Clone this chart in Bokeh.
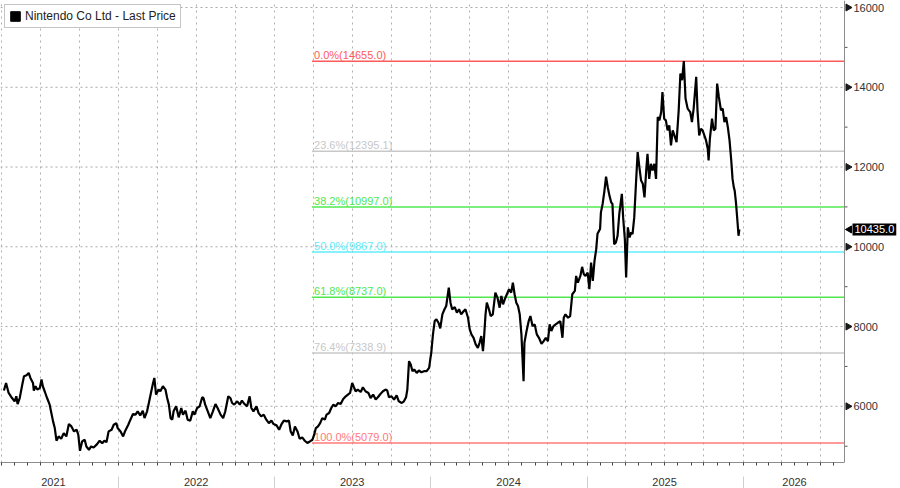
import math
import pandas as pd
from bokeh.plotting import figure
from bokeh.models import FixedTicker, Legend, LegendItem, Range1d, Span
from bokeh.core.properties import value
from bokeh.embed import file_html
from bokeh.resources import INLINE

# ---------------- data ----------------
dates = [
    "2021-04-07","2021-04-12","2021-04-18","2021-04-26","2021-05-02","2021-05-06","2021-05-09","2021-05-14",
    "2021-05-20","2021-05-24","2021-05-30","2021-06-04","2021-06-08","2021-06-14","2021-06-16","2021-06-20",
    "2021-06-24","2021-06-30","2021-07-04","2021-07-07","2021-07-12","2021-07-17","2021-07-23","2021-07-27",
    "2021-07-31","2021-08-04","2021-08-08","2021-08-13","2021-08-19","2021-08-25","2021-08-31","2021-09-06",
    "2021-09-12","2021-09-18","2021-09-24","2021-09-28","2021-10-02","2021-10-07","2021-10-13","2021-10-17",
    "2021-10-23","2021-10-28","2021-11-03","2021-11-11","2021-11-17","2021-11-23","2021-11-28","2021-12-03",
    "2021-12-08","2021-12-15","2021-12-20","2021-12-26","2021-12-29",
    "2022-01-05","2022-01-11","2022-01-16","2022-01-23","2022-01-28","2022-02-03","2022-02-09","2022-02-14",
    "2022-02-20","2022-02-26","2022-03-02","2022-03-08","2022-03-13","2022-03-17","2022-03-22","2022-03-25",
    "2022-03-29","2022-04-02","2022-04-04","2022-04-08","2022-04-14","2022-04-20","2022-04-24","2022-04-28",
    "2022-05-02","2022-05-06","2022-05-09","2022-05-15","2022-05-21","2022-05-27","2022-05-31","2022-06-06",
    "2022-06-11","2022-06-17","2022-06-23","2022-06-27","2022-07-03","2022-07-09","2022-07-15","2022-07-18",
    "2022-07-22","2022-07-28","2022-08-03","2022-08-09","2022-08-15","2022-08-20","2022-08-27","2022-09-02",
    "2022-09-07","2022-09-14","2022-09-19","2022-09-23","2022-09-28","2022-10-05","2022-10-11","2022-10-16",
    "2022-10-22","2022-10-28","2022-11-03","2022-11-07","2022-11-12","2022-11-19","2022-11-24","2022-11-30",
    "2022-12-06","2022-12-12","2022-12-18","2022-12-24","2022-12-29",
    "2023-01-05","2023-01-11","2023-01-16","2023-01-22","2023-01-29","2023-02-03","2023-02-07","2023-02-12",
    "2023-02-17","2023-02-23","2023-02-28","2023-03-06","2023-03-12","2023-03-18","2023-03-24","2023-03-30",
    "2023-04-03","2023-04-07","2023-04-12","2023-04-17","2023-04-22","2023-04-28","2023-05-02","2023-05-08",
    "2023-05-13","2023-05-18","2023-05-23","2023-05-29","2023-06-04","2023-06-10","2023-06-16","2023-06-21",
    "2023-06-26","2023-07-01","2023-07-05","2023-07-09","2023-07-14","2023-07-21","2023-07-26","2023-08-01",
    "2023-08-08","2023-08-13","2023-08-19","2023-08-25","2023-08-30","2023-09-05","2023-09-11","2023-09-17",
    "2023-09-21","2023-09-25","2023-10-01","2023-10-07","2023-10-13","2023-10-18","2023-10-25","2023-10-30",
    "2023-11-04","2023-11-07","2023-11-11","2023-11-15","2023-11-19","2023-11-23","2023-11-29","2023-12-04",
    "2023-12-10","2023-12-16","2023-12-22","2023-12-28","2023-12-31",
    "2024-01-02","2024-01-06","2024-01-10","2024-01-14","2024-01-19","2024-01-23","2024-01-28","2024-02-02",
    "2024-02-06","2024-02-12","2024-02-16","2024-02-20","2024-02-26","2024-03-02","2024-03-07","2024-03-12",
    "2024-03-18","2024-03-22","2024-03-28","2024-04-01","2024-04-05","2024-04-10","2024-04-15","2024-04-20",
    "2024-04-24","2024-04-28","2024-05-02","2024-05-04","2024-05-08","2024-05-11","2024-05-16","2024-05-20",
    "2024-05-25","2024-05-31","2024-06-05","2024-06-10","2024-06-14","2024-06-18","2024-06-22","2024-06-27",
    "2024-07-02","2024-07-07","2024-07-11","2024-07-15","2024-07-19","2024-07-23","2024-07-27","2024-07-31",
    "2024-08-05","2024-08-07","2024-08-12","2024-08-17","2024-08-21","2024-08-26","2024-08-31","2024-09-05",
    "2024-09-10","2024-09-16","2024-09-21","2024-09-26","2024-10-01","2024-10-05","2024-10-09","2024-10-14",
    "2024-10-19","2024-10-24","2024-10-30","2024-11-04","2024-11-07","2024-11-11","2024-11-17","2024-11-22",
    "2024-11-27","2024-12-03","2024-12-06","2024-12-10","2024-12-16","2024-12-20","2024-12-24","2024-12-28",
    "2025-01-02","2025-01-06","2025-01-10","2025-01-14","2025-01-18","2025-01-22","2025-01-25","2025-01-31",
    "2025-02-02","2025-02-06","2025-02-10","2025-02-14","2025-02-18","2025-02-22","2025-02-26","2025-03-01",
    "2025-03-05","2025-03-09","2025-03-13","2025-03-17","2025-03-23","2025-03-26","2025-03-30","2025-04-02",
    "2025-04-06","2025-04-10","2025-04-14","2025-04-17","2025-04-21","2025-04-25","2025-04-29","2025-05-03",
    "2025-05-07","2025-05-11","2025-05-15","2025-05-19","2025-05-22","2025-05-26","2025-05-30","2025-06-03",
    "2025-06-07","2025-06-11","2025-06-15","2025-06-19","2025-06-23","2025-06-26","2025-06-30","2025-07-04",
    "2025-07-08","2025-07-12","2025-07-16","2025-07-20","2025-07-24","2025-07-29","2025-08-03","2025-08-07",
    "2025-08-11","2025-08-15","2025-08-19","2025-08-24","2025-08-30","2025-09-03","2025-09-07","2025-09-13",
    "2025-09-16","2025-09-20","2025-09-24","2025-09-28","2025-10-02","2025-10-06","2025-10-10","2025-10-12",
    "2025-10-15","2025-10-20","2025-10-24","2025-10-28","2025-11-01","2025-11-05","2025-11-10","2025-11-14",
    "2025-11-18","2025-11-22","2025-11-26","2025-11-30","2025-12-04","2025-12-07","2025-12-10","2025-12-12",
    "2025-12-15","2025-12-19","2025-12-21","2025-12-23",
]
prices = [
    6395,6586,6334,6208,6125,6251,6057,6208,
    6546,6754,6780,6837,6712,6586,6395,6503,
    6420,6460,6671,6503,6359,6208,6042,5831,
    5622,5454,5137,5245,5187,5328,5245,5554,
    5496,5371,5413,5288,4885,5119,5162,4993,
    4910,4993,4968,5051,5137,5076,5137,5101,
    5371,5413,5539,5579,5454,
    5371,5245,5388,5539,5665,5806,5791,5874,
    5773,5891,5705,5874,6125,6334,6586,6712,
    6294,6377,6420,6377,6503,6420,6208,6042,
    5705,5665,5874,6000,5723,5957,5791,5891,
    5665,5640,5874,5791,5957,6000,6226,6208,
    6042,5874,5705,5874,6057,5957,5791,5705,
    5874,6251,6208,6083,6042,6125,6042,6143,
    6057,6000,6251,5957,5874,6000,5831,5748,
    5791,5665,5579,5640,5554,
    5522,5413,5539,5640,5622,5640,5371,5270,
    5496,5371,5187,5220,5137,5079,5119,5162,
    5288,5454,5496,5579,5705,5665,5791,5831,
    5957,6042,6000,6083,6057,6183,6251,6294,
    6334,6586,6478,6377,6420,6359,6478,6377,
    6334,6208,6294,6168,6226,6309,6377,6420,
    6395,6226,6251,6168,6276,6125,6083,6125,
    6226,6420,7132,7049,6880,6923,6837,6898,
    6855,6880,6880,6963,7200,
    7341,7804,8138,8181,8095,7954,8307,8433,
    8516,8976,8599,8430,8490,8347,8433,8307,
    8390,8433,8221,7929,7804,7718,7552,7466,
    7592,7761,7383,7635,8307,8599,8433,8264,
    8307,8850,8724,8473,8767,8558,8684,8810,
    8936,8850,9102,8810,8599,8516,8307,7804,
    6629,7592,7887,8138,8264,8012,8055,7804,
    7718,7567,7635,7718,7635,8055,7887,8012,
    8055,8095,8138,7718,8221,8307,8221,8264,
    8810,8893,9270,9102,9270,9497,9313,9270,
    9353,8936,9605,9145,9648,9940,10327,10445,
    10863,11074,11384,11761,11492,11283,11115,11074,
    10068,10108,10277,10823,11326,10737,10194,9228,
    10486,10234,10360,10320,10737,11578,12373,11995,
    11661,11578,11240,11912,12332,11703,12081,11912,
    12081,11703,13253,13170,13379,13882,13213,13170,
    12919,13044,12541,12919,12793,12624,13422,14345,
    14177,14655,13716,13465,13379,13127,13465,14260,
    13422,12793,12961,12919,12793,12667,12458,12164,
    12710,13213,12919,12961,14094,13756,13422,13465,
    13127,13253,13002,12667,12164,11703,11492,11409,
    11115,10571,10277,10435,
]
series_name = "Nintendo Co Ltd - Last Price"
last_price = 10435.0

fib_pcts = ["0.0%", "23.6%", "38.2%", "50.0%", "61.8%", "76.4%", "100.0%"]
fib_levels = [14655.0, 12395.1, 10997.0, 9867.0, 8737.0, 7338.9, 5079.0]
fib_colors = ["#ff5a5a", "#c8c8c8", "#4fe84f", "#62ecfa", "#4fe84f", "#c8c8c8", "#ff7a7a"]
fib_start = "2023-03-29"

y_ticks = [6000, 8000, 10000, 12000, 14000, 16000]
y_tick_labels = ["6000", "8000", "10000", "12000", "14000", "16000"]
y_minor = [5000, 7000, 9000, 11000, 13000, 15000]
years = ["2021", "2022", "2023", "2024", "2025", "2026"]
year_label_dates = ["2021-08-01", "2022-07-01", "2023-07-01", "2024-07-01", "2025-07-01", "2026-05-01"]

x_start, x_end = "2021-03-30", "2026-08-26"
y_start, y_end = 4591, 16176

# ---------------- layout helpers ----------------
def ms(d):
    return pd.Timestamp(d).value / 1e6

W, H = 900, 488
AXIS_PX = 844.0                       # x position (px) of the price axis inside the frame
xs = [ms(d) for d in dates]
X0, X1 = ms(x_start), ms(x_end)
PX = (X1 - X0) / AXIS_PX              # ms per pixel
XR = X0 + PX * W

p = figure(width=W, height=H, x_axis_type="datetime", y_axis_location=None,
           x_range=Range1d(X0, XR), y_range=Range1d(y_start, y_end),
           output_backend="svg", toolbar_location=None,
           min_border_left=0, min_border_top=0, min_border_right=0, min_border_bottom=0)
p.outline_line_color = None
p.background_fill_color = "white"
p.border_fill_color = "white"
p.ygrid.visible = False

# vertical quarter grid
quarters = [ms(d) for d in pd.date_range("2021-04-01", "2026-07-01", freq="QS")]
p.xgrid.ticker = FixedTicker(ticks=quarters)
p.xgrid.grid_line_color = "#b0b0b0"
p.xgrid.grid_line_dash = "2 4"

# horizontal grid, stopping at the price axis
p.segment(x0=[X0] * len(y_ticks), y0=y_ticks, x1=[X1] * len(y_ticks), y1=y_ticks,
          line_color="#a8a8a8", line_dash="2 3", line_width=1)

# x axis: monthly ticks, year labels, year separators
year_bounds = [ms(f"{y}-01-01") for y in range(2022, 2027)]
months = [ms(d) for d in pd.date_range("2021-04-01", "2026-08-01", freq="MS")]
xa = p.xaxis[0]
xa.bounds = (X0, X1)
xa.ticker = FixedTicker(ticks=months, minor_ticks=year_bounds)
overrides = {t: "" for t in months}
for d, yr in zip(year_label_dates, years):
    overrides[ms(d)] = yr
xa.major_label_overrides = overrides
xa.major_label_text_font = "Liberation Sans"
xa.major_label_text_font_size = "11px"
xa.major_label_text_color = "#333333"
xa.major_label_standoff = 1
xa.axis_line_color = "#8c8c8c"
xa.major_tick_line_color = "#444444"
xa.major_tick_in = 0
xa.major_tick_out = 3
xa.minor_tick_line_color = "#d0d0d0"
xa.minor_tick_out = 14
xa.minor_tick_in = -26

# fibonacci lines and labels
fx0 = [ms(fib_start)] * len(fib_levels)
fx1 = [X1] * len(fib_levels)
p.segment(x0=fx0, y0=fib_levels, x1=fx1, y1=fib_levels, line_color=fib_colors, line_width=1.5)
fib_texts = [f"{a}({b:.1f})" for a, b in zip(fib_pcts, fib_levels)]
p.text(x=fx0, y=fib_levels, text=fib_texts, text_color=fib_colors,
       text_font=value("Liberation Sans"), text_font_size="11px",
       text_baseline="bottom", text_align="left", x_offset=2, y_offset=0)

# price line
p.line(xs, prices, line_color="black", line_width=2.2)

# price axis drawn at X1
p.add_layout(Span(location=X1, dimension="height", line_color="#8c8c8c", line_width=1))
p.segment(x0=[X1] * len(y_minor), y0=y_minor, x1=[X1 + 3 * PX] * len(y_minor), y1=y_minor,
          line_color="#555555", line_width=1)
p.scatter(x=[X1 + 3.5 * PX] * len(y_ticks), y=y_ticks, marker="triangle", angle=-math.pi / 2,
          size=7, fill_color="#1a1a1a", line_color="#1a1a1a")
p.text(x=[X1] * len(y_ticks), y=y_ticks, text=y_tick_labels, x_offset=9,
       text_font=value("Liberation Sans"), text_font_size="11px", text_color="#333333",
       text_baseline="middle", text_align="left")

# last price tag
p.scatter(x=[X1 + 5 * PX], y=[last_price], marker="triangle", angle=math.pi / 2,
          size=7, fill_color="black", line_color="black")
p.text(x=[X1], y=[last_price], text=[f"{last_price:.1f}"], x_offset=8,
       text_font=value("Liberation Sans"), text_font_size="11px", text_color="white",
       text_baseline="middle", text_align="left",
       background_fill_color="black", padding=2)

# legend with a square swatch (proxy renderer kept outside the visible range)
far = X0 - 400 * 86400000.0
sq = p.quad(left=[far], right=[far + 86400000.0], bottom=[prices[0]], top=[prices[0] + 1],
            fill_color="black", line_color="black")
legend = Legend(items=[LegendItem(label=series_name, renderers=[sq])], location="top_left")
legend.margin = 4
legend.padding = 4
legend.spacing = 0
legend.label_height = 14
legend.glyph_height = 12
legend.glyph_width = 12
legend.label_standoff = 4
legend.label_text_font = "Liberation Sans"
legend.label_text_font_size = "12px"
legend.label_text_color = "#222222"
legend.border_line_color = "#8c8c8c"
legend.border_line_width = 1
legend.background_fill_alpha = 1.0
p.add_layout(legend)

open("out.html", "w").write(file_html(p, INLINE))
